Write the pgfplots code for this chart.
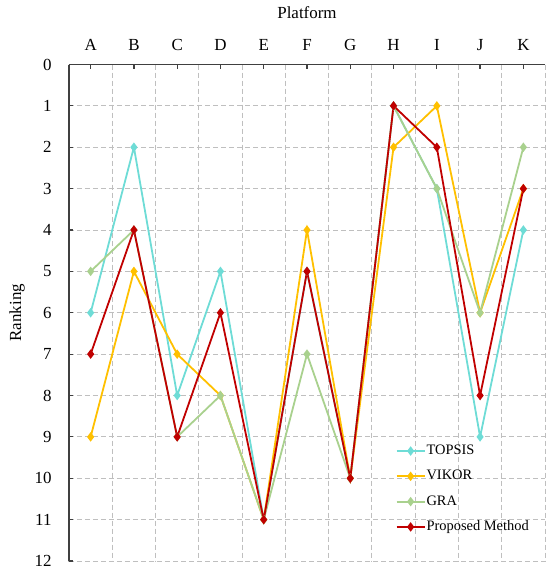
\documentclass[border=0pt]{standalone}
\usepackage{fontspec}
\setmainfont{Liberation Serif}
\usepackage{pgfplots}
\pgfplotsset{compat=1.18}
\definecolor{ctop}{HTML}{6EDCD6}
\definecolor{cvik}{HTML}{FFC000}
\definecolor{cgra}{HTML}{A9D18E}
\definecolor{cpro}{HTML}{C00000}
\definecolor{cgrid}{HTML}{BFBFBF}
\definecolor{caxis}{HTML}{404040}
\begin{document}
\begin{tikzpicture}
\path[use as bounding box] (-69bp,-11bp) rectangle (481bp,561bp);
\begin{axis}[
  at={(0,0)}, anchor=south west,
  scale only axis, width=476bp, height=496.5bp,
  xmin=-0.5, xmax=10.5, ymin=0, ymax=12, y dir=reverse,
  axis x line*=top, axis y line*=left,
  axis line style={-, line width=1.6bp, caxis},
  xtick={0,...,10},
  xticklabels={A,B,C,D,E,F,G,H,I,J,K},
  minor xtick={-0.5,0.5,...,10.5},
  ytick={0,...,12},
  xminorgrids=true, ymajorgrids=true, xmajorgrids=false,
  grid style={cgrid, line width=1bp, dash pattern=on 5bp off 3bp},
  minor grid style={cgrid, line width=1bp, dash pattern=on 5bp off 3bp},
  tick align=inside, major tick length=4bp, minor tick length=0pt,
  tick style={caxis, line width=1.2bp},
  ticklabel style={font=\fontsize{17}{20}\selectfont},
  /pgf/number format/assume math mode=true,
  xticklabel style={anchor=base, yshift=14bp},
  yticklabel style={anchor=east, xshift=-14bp},
  xlabel={Platform}, ylabel={Ranking},
  every axis x label/.style={at={(axis description cs:0.5,1)}, anchor=base, yshift=46.5bp, font=\fontsize{17}{20}\selectfont},
  every axis y label/.style={at={(axis description cs:0,0.5)}, anchor=center, xshift=-52bp, rotate=90, font=\fontsize{17}{20}\selectfont},
  legend style={at={(axis description cs:0.686,0.237)}, anchor=north west, draw=none, fill=none,
    font=\fontsize{14.5}{17}\selectfont, row sep=10.3bp, inner sep=0pt,
    nodes={inner sep=1bp, text height=10bp, text depth=3bp}},
  legend cell align=left,
  legend image code/.code={\draw[mark repeat=2,mark phase=2,#1] plot coordinates {(0bp,0bp) (14bp,0bp) (28bp,0bp)};},
  every axis plot/.append style={line width=1.8bp, mark=diamond*, mark size=3.3bp, mark options={solid}},
]
\addplot[color=ctop] coordinates {(0,6) (1,2) (2,8) (3,5) (4,11) (5,5) (6,10) (7,1) (8,3) (9,9) (10,4)};
\addlegendentry{TOPSIS}
\addplot[color=cvik] coordinates {(0,9) (1,5) (2,7) (3,8) (4,11) (5,4) (6,10) (7,2) (8,1) (9,6) (10,3)};
\addlegendentry{VIKOR}
\addplot[color=cgra] coordinates {(0,5) (1,4) (2,9) (3,8) (4,11) (5,7) (6,10) (7,1) (8,3) (9,6) (10,2)};
\addlegendentry{GRA}
\addplot[color=cpro] coordinates {(0,7) (1,4) (2,9) (3,6) (4,11) (5,5) (6,10) (7,1) (8,2) (9,8) (10,3)};
\addlegendentry{Proposed Method}
\end{axis}
\end{tikzpicture}
\end{document}
